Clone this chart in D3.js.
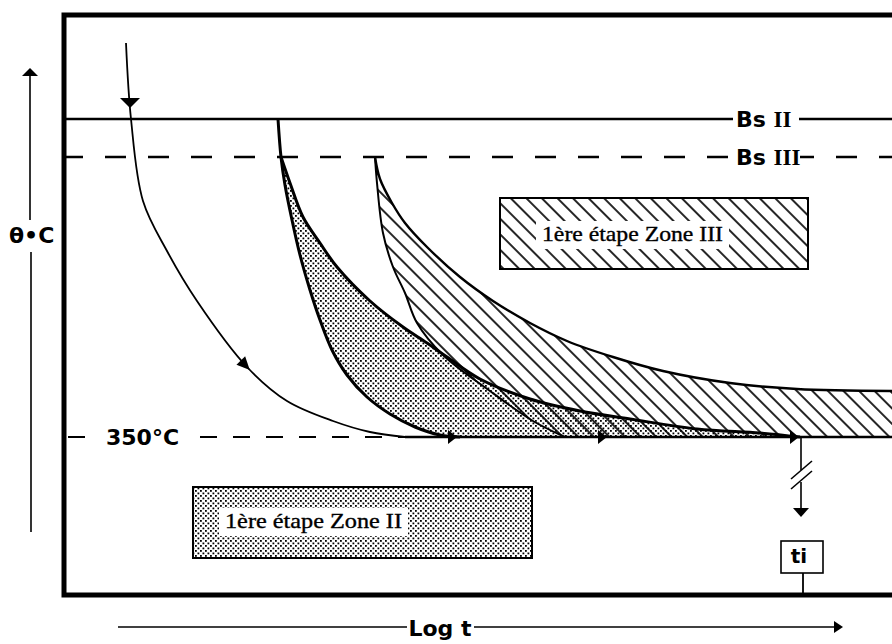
<!DOCTYPE html>
<html>
<head>
<meta charset="utf-8">
<script src="https://cdn.jsdelivr.net/npm/d3@7/dist/d3.min.js"></script>
<style>
  body { margin: 0; background: #ffffff; }
  svg { display: block; }
  .sans { font-family: 'DejaVu Sans', sans-serif; font-weight: bold; }
  .serif { font-family: 'Liberation Serif', serif; }
</style>
</head>
<body>
<svg id="canvas"></svg>
<script>
////////////////////////////////////////////////////////////////////////////////
// Data: schematic cooling diagram (x = log t, y = temperature in °C).
////////////////////////////////////////////////////////////////////////////////

// Isotherms.
var isothermNames = ['Bs II', 'Bs III', '350°C'];
var isothermTemps = [509, 490, 350];

// Cooling path (enters from the top, ends on the 350°C isotherm).
var coolingLogt = [0.62, 0.67, 0.79, 1.03, 1.33, 1.83, 2.23, 2.69, 3.06, 3.41];
var coolingTemp = [547, 509, 468, 443, 418, 385, 368, 358, 352.5, 350];

// Zone II, first stage: start and end curves.
var zone2StartLogt = [2.14, 2.17, 2.21, 2.28, 2.36, 2.46, 2.56, 2.68, 2.83, 3.03, 3.26, 3.51, 3.76, 3.96];
var zone2StartTemp = [509, 490, 476, 458.5, 441, 423.5, 408.5, 393.5, 381, 370, 361.5, 355, 351, 350];
var zone2EndLogt = [2.17, 2.26, 2.39, 2.56, 2.73, 3.06, 3.39, 3.63, 3.83, 4.16, 4.66, 5.16, 5.66, 6.33, 6.96, 7.36];
var zone2EndTemp = [490, 477, 460, 447, 435, 418, 405, 397, 390, 379, 369, 363, 359, 354, 352, 350];

// Zone III, first stage: start and end curves.
var zone3StartLogt = [3.11, 3.13, 3.19, 3.29, 3.41, 3.53, 3.79, 4.26, 4.69, 5.01];
var zone3StartTemp = [490, 477, 452, 435, 422, 407, 391, 373, 358, 350];
var zone3EndLogt = [3.11, 3.16, 3.28, 3.41, 3.63, 3.96, 4.29, 4.66, 5.03, 5.49, 5.99, 6.66, 7.33, 8.30];
var zone3EndTemp = [490, 479, 467, 457, 445, 430, 418, 407, 398, 390, 383, 377, 374, 373];

// Arrows along the path (log t), and the time ti.
var pathArrowLogt = [1.86];
var flowArrowLogt = [3.93, 5.43, 7.35];
var tiLogt = 7.37;

// Texts.
var zoneLabels = ['1ère étape Zone III', '1ère étape Zone II'];
var axisLabels = { x: 'Log t', y: 'θ•C', ti: 'ti' };

////////////////////////////////////////////////////////////////////////////////
// Canvas and scales.
////////////////////////////////////////////////////////////////////////////////
var canvas = { width: 892, height: 644 };

var svg = d3.select('#canvas')
            .attr('width', canvas.width)
            .attr('height', canvas.height);

var x = d3.scaleLinear().domain([0, 8.3]).range([64, 894]);
var y = d3.scaleLinear().domain([271, 561]).range([595, 15]);

var smooth = d3.line().curve(d3.curveCatmullRom.alpha(0.5));

// Pair up log t and temperature arrays into pixel points.
function toPoints(logt, temp) {
  return logt.map(function(d, i) { return [x(d), y(temp[i])]; });
}

// Join several point lists into one closed outline.
function outline(parts) {
  return parts.map(function(pts, i) {
    var d = smooth(pts);
    return i === 0 ? d : 'L' + d.slice(1);
  }).join('') + 'Z';
}

// Filled arrow head, tip at (px, py), pointing at angle (degrees).
function arrowHead(px, py, angle, len, half) {
  var a = angle * Math.PI / 180;
  var c = Math.cos(a), s = Math.sin(a);
  var pts = [[0, 0], [-len, -half], [-len, half]].map(function(p) {
    return [px + p[0] * c - p[1] * s, py + p[0] * s + p[1] * c];
  });
  svg.append('path')
     .attr('d', 'M' + pts.join('L') + 'Z')
     .attr('fill', '#000');
}

////////////////////////////////////////////////////////////////////////////////
// Fill patterns.
////////////////////////////////////////////////////////////////////////////////
var defs = svg.append('defs');

var dots = defs.append('pattern')
               .attr('id', 'dots')
               .attr('patternUnits', 'userSpaceOnUse')
               .attr('width', 5).attr('height', 5);
dots.append('rect').attr('x', 0).attr('y', 0).attr('width', 1.8).attr('height', 1.8).attr('fill', '#000');
dots.append('rect').attr('x', 2.5).attr('y', 2.5).attr('width', 1.8).attr('height', 1.8).attr('fill', '#000');

var hatch = defs.append('pattern')
                .attr('id', 'hatch')
                .attr('patternUnits', 'userSpaceOnUse')
                .attr('width', 11).attr('height', 11)
                .attr('patternTransform', 'rotate(-45)');
hatch.append('line')
     .attr('x1', 1).attr('y1', 0).attr('x2', 1).attr('y2', 11)
     .attr('stroke', '#000').attr('stroke-width', 1.7);

////////////////////////////////////////////////////////////////////////////////
// Points.
////////////////////////////////////////////////////////////////////////////////
var coolPts = toPoints(coolingLogt, coolingTemp);
var z2Start = toPoints(zone2StartLogt, zone2StartTemp);
var z2End = toPoints(zone2EndLogt, zone2EndTemp);
var z3Start = toPoints(zone3StartLogt, zone3StartTemp);
var z3End = toPoints(zone3EndLogt, zone3EndTemp);

var y350 = y(isothermTemps[2]);
var xRight = x(8.3);

// Zone II domain (dots).
svg.append('path')
   .attr('d', outline([
     z2Start.slice(1),
     [z2Start[z2Start.length - 1], z2End[z2End.length - 1]],
     z2End.slice().reverse()
   ]))
   .attr('fill', 'url(#dots)');

// Zone III domain (hatch), drawn over the dots.
svg.append('path')
   .attr('d', outline([
     z3End,
     [z3End[z3End.length - 1], [xRight, y350]],
     [[xRight, y350], z3Start[z3Start.length - 1]],
     z3Start.slice().reverse()
   ]))
   .attr('fill', 'url(#hatch)');

////////////////////////////////////////////////////////////////////////////////
// Isotherms and their labels.
////////////////////////////////////////////////////////////////////////////////
svg.append('line')
   .attr('x1', x(0)).attr('x2', xRight)
   .attr('y1', y(isothermTemps[0])).attr('y2', y(isothermTemps[0]))
   .attr('stroke', '#000').attr('stroke-width', 2.5);

svg.append('line')
   .attr('x1', x(0)).attr('x2', xRight)
   .attr('y1', y(isothermTemps[1])).attr('y2', y(isothermTemps[1]))
   .attr('stroke', '#000').attr('stroke-width', 2.5)
   .attr('stroke-dasharray', '21,22').attr('stroke-dashoffset', 2);

svg.append('line')
   .attr('x1', x(0)).attr('x2', x(coolingLogt[coolingLogt.length - 1]))
   .attr('y1', y350).attr('y2', y350)
   .attr('stroke', '#000').attr('stroke-width', 2)
   .attr('stroke-dasharray', '17,16').attr('stroke-dashoffset', 29);

// White gaps behind the isotherm labels.
svg.append('rect').attr('x', 733).attr('y', y(isothermTemps[0]) - 11).attr('width', 66).attr('height', 20).attr('fill', '#fff');
svg.append('rect').attr('x', 731).attr('y', y(isothermTemps[1]) - 11).attr('width', 69).attr('height', 21).attr('fill', '#fff');
svg.append('rect').attr('x', 95).attr('y', y350 - 10).attr('width', 101).attr('height', 20).attr('fill', '#fff');

function isothermLabel(i, px) {
  var parts = isothermNames[i].split(' ');
  var t = svg.append('text')
             .attr('class', 'sans')
             .attr('x', px)
             .attr('y', y(isothermTemps[i]) + 8)
             .attr('font-size', 22);
  if (parts.length > 1) {
    t.append('tspan').text(parts[0] + ' ');
    t.append('tspan').attr('font-family', "'Liberation Serif', serif").attr('font-size', 23).text(parts[1]);
  } else {
    t.text(parts[0]);
  }
}
isothermLabel(0, 736);
isothermLabel(1, 736);
isothermLabel(2, 106);

////////////////////////////////////////////////////////////////////////////////
// Curves.
////////////////////////////////////////////////////////////////////////////////
var coolPath = svg.append('path')
                  .attr('d', smooth(coolPts))
                  .attr('fill', 'none').attr('stroke', '#000').attr('stroke-width', 1.8);

// Path continues along the 350°C isotherm.
svg.append('line')
   .attr('x1', x(coolingLogt[coolingLogt.length - 1])).attr('x2', xRight)
   .attr('y1', y350).attr('y2', y350)
   .attr('stroke', '#000').attr('stroke-width', 2.6);

[[z2Start, 3], [z2End, 3], [z3Start, 2], [z3End, 2.4]].forEach(function(c) {
  svg.append('path')
     .attr('d', smooth(c[0]))
     .attr('fill', 'none').attr('stroke', '#000').attr('stroke-width', c[1]);
});

////////////////////////////////////////////////////////////////////////////////
// Arrows on the cooling path.
////////////////////////////////////////////////////////////////////////////////
arrowHead(coolPts[0][0] + 4, 108, 90, 10, 10);

// Find the point of the path at a given pixel x, and its direction.
function pathAt(node, px) {
  var total = node.getTotalLength();
  var best = 0;
  for (var l = 0; l <= total; l += 0.5) {
    if (node.getPointAtLength(l).x <= px) best = l;
  }
  var p = node.getPointAtLength(best);
  var q = node.getPointAtLength(Math.max(0, best - 4));
  return { x: p.x, y: p.y, angle: Math.atan2(p.y - q.y, p.x - q.x) * 180 / Math.PI };
}

pathArrowLogt.forEach(function(d) {
  var p = pathAt(coolPath.node(), x(d));
  arrowHead(p.x, p.y, p.angle, 13, 6);
});

flowArrowLogt.forEach(function(d) {
  arrowHead(x(d), y350, 0, 9, 7);
});

////////////////////////////////////////////////////////////////////////////////
// Time ti: broken drop line, arrow and box.
////////////////////////////////////////////////////////////////////////////////
var tx = x(tiLogt);
svg.append('line').attr('x1', tx).attr('x2', tx).attr('y1', y350).attr('y2', 470).attr('stroke', '#000').attr('stroke-width', 1.6);
svg.append('line').attr('x1', tx).attr('x2', tx).attr('y1', 482).attr('y2', 510).attr('stroke', '#000').attr('stroke-width', 1.6);
svg.append('line').attr('x1', tx - 10).attr('y1', 479).attr('x2', tx + 11).attr('y2', 461).attr('stroke', '#000').attr('stroke-width', 1.6);
svg.append('line').attr('x1', tx - 10).attr('y1', 489).attr('x2', tx + 11).attr('y2', 471).attr('stroke', '#000').attr('stroke-width', 1.6);
arrowHead(tx, 517, 90, 9, 8);

svg.append('rect').attr('x', 781).attr('y', 541).attr('width', 42).attr('height', 32)
   .attr('fill', '#fff').attr('stroke', '#000').attr('stroke-width', 1.6);
svg.append('line').attr('x1', tx + 2).attr('x2', tx + 2).attr('y1', 573).attr('y2', 595).attr('stroke', '#000').attr('stroke-width', 1.8);
svg.append('text').attr('class', 'sans').attr('x', 799).attr('y', 563)
   .attr('text-anchor', 'middle').attr('font-size', 20).text(axisLabels.ti);

////////////////////////////////////////////////////////////////////////////////
// Legend boxes.
////////////////////////////////////////////////////////////////////////////////
function legendBox(bx, by, bw, bh, fill, label, tx0, tw, ty) {
  svg.append('rect').attr('x', bx).attr('y', by).attr('width', bw).attr('height', bh)
     .attr('fill', fill).attr('stroke', '#000').attr('stroke-width', 2);
  svg.append('rect').attr('x', tx0 - 6).attr('y', ty - 20).attr('width', tw + 12).attr('height', 28)
     .attr('fill', '#fff');
  svg.append('text').attr('class', 'serif').attr('x', tx0).attr('y', ty)
     .attr('font-size', 21)
     .attr('stroke', '#000').attr('stroke-width', 0.35)
     .attr('textLength', tw).attr('lengthAdjust', 'spacingAndGlyphs')
     .text(label);
}
legendBox(500, 198, 308, 71, 'url(#hatch)', zoneLabels[0], 542, 181, 241);
legendBox(193, 487, 339, 71, 'url(#dots)', zoneLabels[1], 225, 177, 528);

////////////////////////////////////////////////////////////////////////////////
// Frame and axis arrows.
////////////////////////////////////////////////////////////////////////////////
svg.append('rect')
   .attr('x', x(0)).attr('y', y(561))
   .attr('width', 900 - x(0)).attr('height', y(271) - y(561))
   .attr('fill', 'none').attr('stroke', '#000').attr('stroke-width', 5);

// Temperature axis.
svg.append('line').attr('x1', 30).attr('x2', 30).attr('y1', 74).attr('y2', 220).attr('stroke', '#000').attr('stroke-width', 1.6);
svg.append('line').attr('x1', 31).attr('x2', 31).attr('y1', 252).attr('y2', 532).attr('stroke', '#000').attr('stroke-width', 1.6);
arrowHead(30, 68, -90, 8, 8);
svg.append('text').attr('class', 'sans').attr('x', 9).attr('y', 243)
   .attr('font-size', 22).text(axisLabels.y);

// Time axis.
svg.append('line').attr('x1', 118).attr('x2', 407).attr('y1', 627).attr('y2', 627).attr('stroke', '#000').attr('stroke-width', 1.6);
svg.append('line').attr('x1', 474).attr('x2', 836).attr('y1', 627).attr('y2', 627).attr('stroke', '#000').attr('stroke-width', 1.6);
arrowHead(843, 627, 0, 9, 6);
svg.append('text').attr('class', 'sans').attr('x', 440).attr('y', 636)
   .attr('text-anchor', 'middle').attr('font-size', 22).text(axisLabels.x);
</script>
</body>
</html>
